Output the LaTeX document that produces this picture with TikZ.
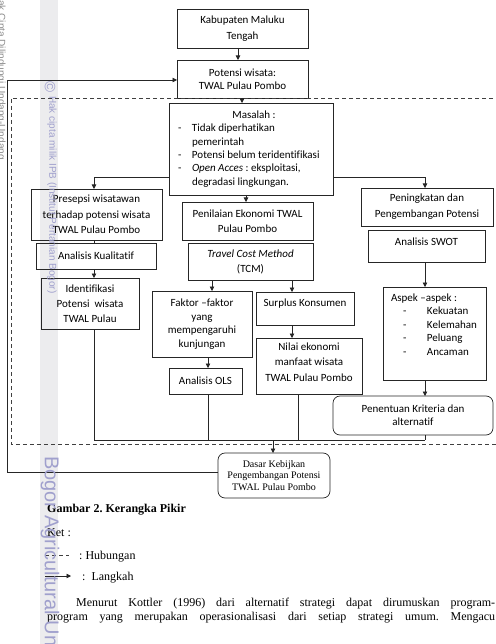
\documentclass[tikz,border=0pt]{standalone}
\usepackage{fontspec}
\setmainfont{Carlito}[Ligatures={NoCommon}]
\newfontfamily\tnr{Liberation Serif}
\newfontfamily\wmf{Liberation Sans}
\usetikzlibrary{arrows.meta}
\frenchspacing
\definecolor{wmc}{RGB}{160,160,205}
\definecolor{bandc}{RGB}{236,236,238}
\definecolor{edgec}{RGB}{140,140,140}
\newcommand{\bxc}[4]{\parbox[c][#2pt][c]{#1pt}{\fontsize{11}{#3pt}\selectfont\centering #4\par}}
\newcommand{\bxt}[5]{\parbox[c][#2pt][t]{#1pt}{\fontsize{11}{#3pt}\selectfont\vspace*{#4pt}\centering #5\par}}
\tikzset{
 box/.style={draw=black!85, line width=0.7pt, inner sep=0pt, outer sep=0pt},
 rbox/.style={box, rounded corners=7pt},
 ln/.style={draw=black!85, line width=0.7pt},
 arr/.style={ln, -{Triangle[length=4.5pt,width=4.5pt]}},
 dsh/.style={draw=black!75, line width=0.7pt, dash pattern=on 4pt off 3pt},
 serif/.style={font=\tnr\fontsize{12}{14}\selectfont, inner sep=0pt, anchor=base west},
 wmark/.style={text=wmc, inner sep=0pt, rotate=-90}
}
\begin{document}
\begin{tikzpicture}[x=1pt,y=-1pt]
\useasboundingbox (0,0) rectangle (495,644);
% watermark band
\fill[bandc] (40,0) rectangle (58,644);

% boxes
\node[box] (kab) at (242.5,28.5) {\bxc{131}{39}{16}{Kabupaten Maluku\\Tengah}};
\node[box] (pot) at (242.5,79) {\bxc{131}{38}{13}{Potensi wisata:\\TWAL Pulau Pombo}};
\node[box] (mas) at (251,149) {\parbox[c][92pt][c]{164pt}{\fontsize{11}{13.4}\selectfont\centering\hspace*{6pt}Masalah :\par\raggedright
\hspace*{9pt}\makebox[14pt][l]{-}Tidak diperhatikan\par
\hspace*{23pt}pemerintah\par
\hspace*{9pt}\makebox[14pt][l]{-}Potensi belum teridentifikasi\par
\hspace*{9pt}\makebox[14pt][l]{-}\textit{Open Acces} : eksploitasi,\par
\hspace*{23pt}degradasi lingkungan.\par}};
\node[box] (pres) at (96.5,214.5) {\bxc{131}{51}{15.5}{Presepsi wisatawan\\terhadap potensi wisata\\TWAL Pulau Pombo}};
\node[box] (kual) at (96,256) {\bxc{120}{26}{13.4}{Analisis Kualitatif}};
\node[box] (ident) at (90,303.5) {\bxc{98}{51}{15}{Identifikasi\\Potensi\ \ wisata\\TWAL Pulau}};
\node[box] (pen) at (247.5,221) {\bxc{131}{38}{15}{Penilaian Ekonomi TWAL\\Pulau Pombo}};
\node[box] (tcm) at (250.5,261.5) {\bxc{125}{37}{15}{\textit{Travel Cost Method}\\(TCM)}};
\node[box] (fak) at (202,324) {\bxc{100}{66}{13.6}{Faktor –faktor\\yang\\mempengaruhi\\kunjungan}};
\node[box] (ols) at (205.5,381) {\bxc{73}{26}{13.4}{Analisis OLS}};
\node[box] (sur) at (305,308.5) {\bxt{98}{33}{13.4}{6.8}{Surplus Konsumen}};
\node[box] (nil) at (309,366) {\bxt{106}{56}{15.5}{4.8}{Nilai ekonomi\\manfaat wisata\\TWAL Pulau Pombo}};
\node[box] (ping) at (427,207) {\bxc{132}{38}{16}{Peningkatan dan\\Pengembangan Potensi}};
\node[box] (swot) at (426.5,246) {\bxt{117}{32}{13.4}{7.5}{Analisis SWOT}};
\node[box] (asp) at (434.5,333.5) {\parbox[c][93pt][t]{103pt}{\fontsize{11}{13.5}\selectfont\raggedright\vspace*{6.8pt}\hspace*{8pt}Aspek –aspek :\par
\hspace*{20pt}\makebox[24pt][l]{-}Kekuatan\par
\hspace*{20pt}\makebox[24pt][l]{-}Kelemahan\par
\hspace*{20pt}\makebox[24pt][l]{-}Peluang\par
\hspace*{20pt}\makebox[24pt][l]{-}Ancaman\par}};
\node[rbox] (pent) at (413,415.5) {\bxc{160}{39}{13}{Penentuan Kriteria dan\\alternatif}};
\node[rbox] (dasar) at (274,475.5) {\parbox[c][45pt][c]{112pt}{\tnr\fontsize{10}{11.7}\selectfont\centering Dasar Kebijkan\\Pengembangan Potensi\\TWAL Pulau Pombo\par}};

% dashed frame
\coordinate (dtl) at (11,98);
\coordinate (dbl) at (11,444);
\coordinate (dtr) at (500,98);
\coordinate (dbr) at (500,444);
\draw[dsh] (dtr) -- (dtl) -- (dbl) -- (dbr);

% connectors
\draw[arr] ([xshift=-4.5pt]kab.south) -- ([xshift=-4.5pt]pot.north);
\draw[arr] ([xshift=-0.5pt]pot.south) -- ([xshift=-9pt]mas.north);
\coordinate (lc) at (7,0);
\draw[arr] ([yshift=3.5pt]dasar.west) -- ([yshift=3.5pt]dasar.west -| lc) -- ([yshift=-1pt]pot.west -| lc) -- ([yshift=-1pt]pot.west);
\draw[arr] ([yshift=-28pt]mas.west) -| ([xshift=-2.5pt]pres.north);
\draw[arr] ([yshift=-28pt]mas.east) -| ([xshift=-2pt]ping.north);
\draw[arr] ([xshift=-5pt]mas.south) -- ([xshift=-1.5pt]pen.north);
\draw[ln] ([xshift=-2.5pt]pres.south) -- ([xshift=-2pt]kual.north);
\draw[arr] ([xshift=-2pt]kual.south) -- ([xshift=4pt]ident.north);
\draw[arr] ([xshift=-38.5pt]tcm.south) -- ([xshift=10pt]fak.north);
\draw[arr] ([xshift=41.5pt]tcm.south) -- ([xshift=-13pt]sur.north);
\draw[arr] ([xshift=6pt]fak.south) -- ([xshift=2.5pt]ols.north);
\draw[arr] ([xshift=-13pt]sur.south) -- ([xshift=-17pt]nil.north);
\draw[arr] ([xshift=-1.5pt]swot.south) -- ([xshift=-9.5pt]asp.north);
\draw[arr] ([xshift=-9.5pt]asp.south) -- ([xshift=12pt]pent.north);

\coordinate (j1) at (94,440);
\coordinate (j2) at (208,440);
\coordinate (j3) at (298,440);
\coordinate (j4) at (425,440);
\coordinate (jm) at (273,440);
\draw[ln] ([xshift=4pt]ident.south) -- (j1);
\draw[ln] ([xshift=2.5pt]ols.south) -- (j2);
\draw[ln] ([xshift=-11pt]nil.south) -- (j3);
\draw[ln] ([xshift=12pt]pent.south) -- (j4);
\draw[ln] (j1) -- (j4);
\draw[arr] (jm) -- (dasar.north -| jm);

% caption, legend and paragraph
\node[serif, font=\tnr\bfseries\fontsize{12}{14}\selectfont] (capt) at (47,512) {Gambar 2. Kerangka Pikir};
\node[serif] (ket) at (47,536) {Ket :};
\coordinate (lg1) at (45,555);
\coordinate (lg2) at (69,555);
\draw[dsh] (lg1) -- (lg2);
\node[serif] (hub) at (79,559) {: Hubungan};
\coordinate (la1) at (45,576);
\coordinate (la2) at (71,576);
\draw[arr] (la1) -- (la2);
\node[serif] (lang) at (82,580) {:\ \ Langkah};
\node[serif] (par1) at (76,606) {\makebox[419pt][s]{Menurut Kottler (1996) dari alternatif strategi dapat dirumuskan program-}};
\node[serif] (par2) at (47,620) {\makebox[448pt][s]{program yang merupakan operasionalisasi dari setiap strategi umum. Mengacu}};

% watermark texts
\node[wmark, anchor=west, font=\wmf\fontsize{15}{15}\selectfont] (wm0) at (50,81) {©};
\node[wmark, anchor=west, font=\wmf\fontsize{10}{12}\selectfont] (wm1) at (52,96) {Hak cipta milik IPB (Institut Pertanian Bogor)};
\node[wmark, anchor=west, font=\wmf\fontsize{20}{20}\selectfont] (wm2) at (50,456) {Bogor Agricultural Un};
\node[wmark, anchor=east, text=edgec, font=\wmf\fontsize{10}{12}\selectfont] (wm3) at (1,160) {Hak Cipta Dilindungi Undang-Undang};
\end{tikzpicture}
\end{document}
